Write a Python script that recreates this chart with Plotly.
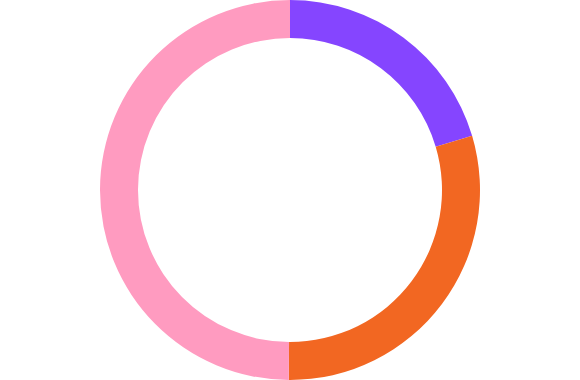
import plotly.graph_objects as go

labels = ["A", "B", "C"]
values = [20.4, 29.7, 49.9]
colors = ["#8545FF", "#F26722", "#FF9BC0"]
label_texts = ["20.4%", "29.7%", "49.9%"]
center_text = "Total 100"

fig = go.Figure(go.Pie(
    labels=labels, values=values, hole=0.8, sort=False,
    direction="clockwise", rotation=0,
    marker=dict(colors=colors, line=dict(width=0)),
    textinfo="none", hoverinfo="label+percent", showlegend=False,
))

label_pos = [(0.79, 0.94), (0.07, 0.52), (0.85, 0.15)]
for (x, y), t in zip(label_pos, label_texts):
    fig.add_annotation(x=x, y=y, xref="paper", yref="paper", text=t,
                       showarrow=False, font=dict(color="white", size=15))
fig.add_annotation(x=0.5, y=0.5, xref="paper", yref="paper", text=center_text,
                   showarrow=False, font=dict(color="white", size=18))

fig.update_layout(width=580, height=380, margin=dict(l=0, r=0, t=0, b=0),
                  paper_bgcolor="white", plot_bgcolor="white")
fig.write_html("out.html")
